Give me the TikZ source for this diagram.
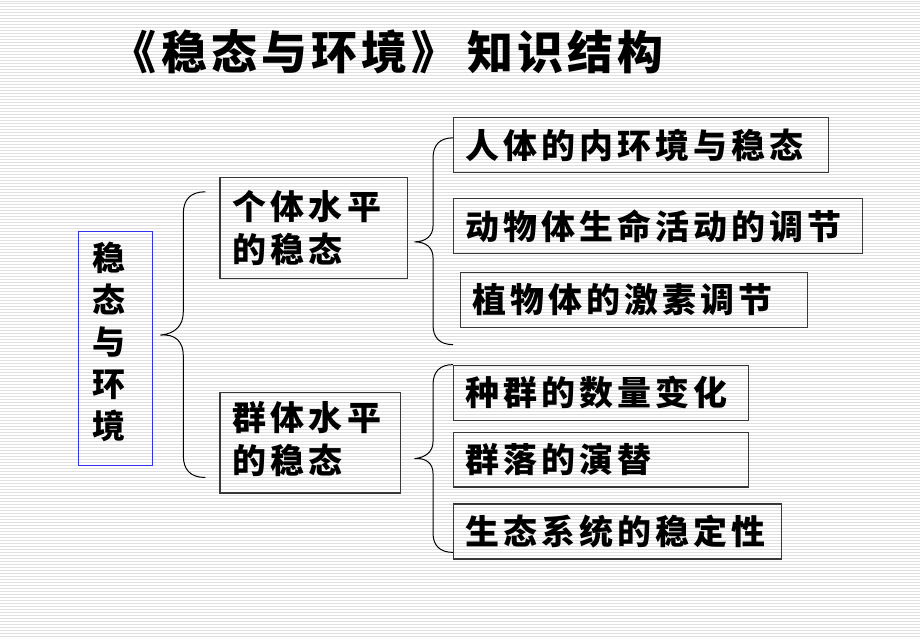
\documentclass[tikz,border=0pt]{standalone}
\usepackage{fontspec}
\newfontfamily\cjk{Noto Sans CJK SC}[BoldFont={Noto Sans CJK SC Black}]
\usepackage{tikz}
\usetikzlibrary{calc}
\usetikzlibrary{positioning}
\definecolor{clbox}{gray}{0.22}
\definecolor{clrule}{gray}{0.88}
\definecolor{clmain}{RGB}{50,50,235}
\tikzstyle{topicbox} = [draw=clbox, line width=1.3pt, rectangle, anchor=north west, inner xsep=12pt, inner ysep=0pt, align=left, font=\cjk\bfseries\fontsize{34}{43}\selectfont\addfontfeature{LetterSpace=12}]
\tikzstyle{levelbox} = [topicbox, inner xsep=13pt, text width=162pt, minimum height=101pt]
\tikzstyle{mainbox} = [draw=clmain, line width=1pt, rectangle, anchor=north west, inner xsep=14pt, inner ysep=0pt, text width=46pt, minimum height=234pt, align=left, font=\cjk\bfseries\fontsize{33}{42}\selectfont]
\tikzstyle{brace} = [draw=black, line width=1pt]
\newcommand{\liftup}[2]{\raisebox{#1}[\height][\depth]{\parbox{180pt}{#2}}}

\begin{document}
\begin{tikzpicture}[x=1pt, y=-1pt]
    % background with ruled lines
    \fill [white] (0,0) rectangle (920,637);
    \foreach \y in {1,4,...,637}
        \draw [clrule, line width=1pt] (0,\y) -- (920,\y);
    \useasboundingbox (0,0) rectangle (920,637);

    \node [anchor=east, inner sep=0pt, font=\cjk\bfseries\fontsize{46}{50}\selectfont\addfontfeature{LetterSpace=9}] (title) at (664,52) {《稳态与环境》\hspace{10pt}知识结构};

    \node [mainbox] (stab) at (78,231) {\liftup{6.5pt}{稳\\态\\与\\环\\境}};

    \node [levelbox] (indiv) at (219,177) {个体水平\\的稳态};
    \node [levelbox, text width=155pt] (popul) at (219,392) {\liftup{4pt}{群体水平\\的稳态}};

    \node [topicbox, text width=351pt, minimum height=55pt] (inner) at (453,117) {人体的内环境与稳态};
    \node [topicbox, text width=385pt, minimum height=55pt] (animal) at (453,198) {动物体生命活动的调节};
    \node [topicbox, text width=323pt, minimum height=55pt] (plant) at (460,272) {植物体的激素调节};

    \node [topicbox, text width=271pt, minimum height=55pt] (number) at (453,365) {种群的数量变化};
    \node [topicbox, text width=271pt, minimum height=55pt] (succ) at (453,432) {群落的演替};
    \node [topicbox, text width=304pt, minimum height=55pt] (eco) at (453,504) {生态系统的稳定性};

    % braces
    \coordinate (tipA) at ($(stab.east)+(7,-13)$);
    \coordinate (tipB) at ($(indiv.east)+(6,14)$);
    \coordinate (tipC) at ($(popul.east)+(13,16)$);

    \path [brace] (205,192) .. controls (190,192) and (183,200) .. (183,214) -- (183,312)
        .. controls (183,326) and (175,334) .. (tipA)
        .. controls (175,334) and (183,342) .. (183,356) -- (183,456)
        .. controls (183,470) and (190,478) .. (205,478);
    \path [brace] (453,138) .. controls (440,138) and (433,145) .. (433,158) -- (433,226)
        .. controls (433,236) and (426,242) .. (tipB)
        .. controls (426,242) and (433,248) .. (433,258) -- (433,326)
        .. controls (433,338) and (440,345) .. (453,345);
    \path [brace] (453,365) .. controls (440,365) and (433,372) .. (433,385) -- (433,442)
        .. controls (433,452) and (426,458) .. (tipC)
        .. controls (426,458) and (433,464) .. (433,474) -- (433,534)
        .. controls (433,546) and (440,553) .. (453,553);
\end{tikzpicture}
\end{document}
